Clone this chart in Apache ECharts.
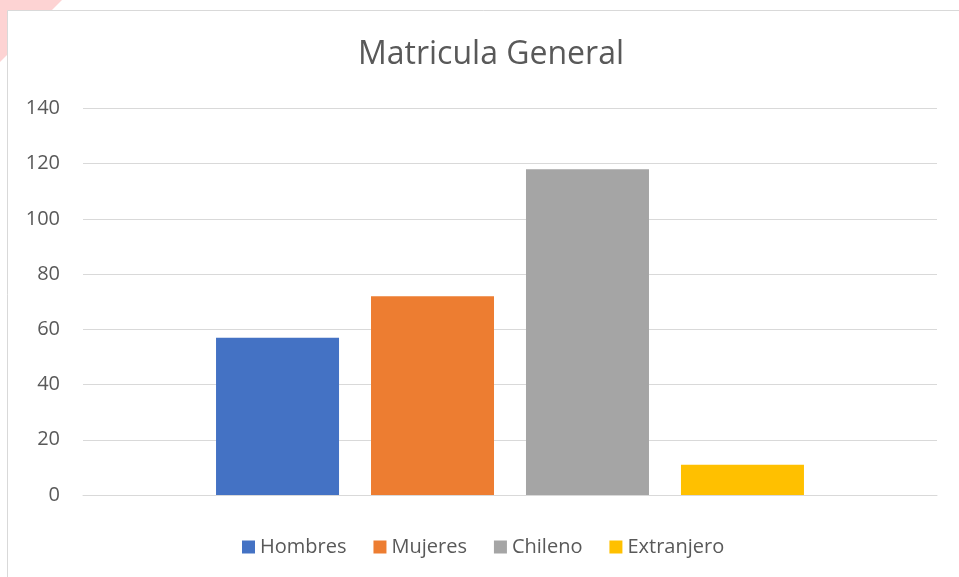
<!DOCTYPE html>
<html>
<head>
<meta charset="utf-8">
<script src="https://cdn.jsdelivr.net/npm/echarts@6/dist/echarts.min.js"></script>
<style>
  html, body { margin: 0; padding: 0; background: #ffffff; }
  #chart { width: 959px; height: 577px; }
</style>
</head>
<body>
<div id="chart"></div>
<script>
// Enrolment totals, one bar per group
const categories = ['Matricula'];
const seriesNames = ['Hombres', 'Mujeres', 'Chileno', 'Extranjero'];
const hombres = [57];
const mujeres = [72];
const chileno = [118];
const extranjero = [11];
const yTicks = [0, 20, 40, 60, 80, 100, 120, 140];

const seriesValues = [hombres, mujeres, chileno, extranjero];
const colors = ['#4472C4', '#ED7D31', '#A5A5A5', '#FFC000'];
const FONT = 'Open Sans';

const chart = echarts.init(document.getElementById('chart'), null, { renderer: 'canvas' });

chart.setOption({
  backgroundColor: '#ffffff',
  animation: false,
  graphic: [
    { type: 'polygon', z: -10, shape: { points: [[0, 0], [62, 0], [0, 62]] }, style: { fill: '#fdd3d3' } },
    { type: 'rect', z: -5, shape: { x: 7.5, y: 10.5, width: 1000, height: 700 }, style: { fill: '#ffffff', stroke: '#d9d9d9', lineWidth: 1 } }
  ],
  title: {
    text: 'Matricula General',
    left: 486, top: 34, textAlign: 'center',
    textStyle: { fontFamily: FONT, fontSize: 32, fontWeight: 'normal', color: '#595959' }
  },
  legend: {
    data: seriesNames,
    bottom: 15, left: 237,
    itemWidth: 13, itemHeight: 13, itemGap: 27,
    icon: 'rect',
    textStyle: { fontFamily: FONT, fontSize: 20, color: '#595959' }
  },
  grid: { left: 83, right: 22, top: 108.5, bottom: 82, containLabel: false },
  xAxis: {
    type: 'category',
    data: categories,
    axisLine: { show: true, lineStyle: { color: '#d9d9d9', width: 1 } },
    axisTick: { show: false },
    axisLabel: { show: false }
  },
  yAxis: {
    type: 'value',
    min: yTicks[0], max: yTicks[yTicks.length - 1], interval: 20,
    axisLine: { show: false },
    axisTick: { show: false },
    axisLabel: { margin: 23, fontFamily: FONT, fontSize: 20, color: '#595959' },
    splitLine: { lineStyle: { color: '#d9d9d9', width: 1 } }
  },
  series: seriesNames.map((name, i) => ({
    name: name,
    type: 'bar',
    data: seriesValues[i],
    barWidth: 123,
    barGap: '26%',
    itemStyle: { color: colors[i] }
  }))
});
</script>
</body>
</html>
